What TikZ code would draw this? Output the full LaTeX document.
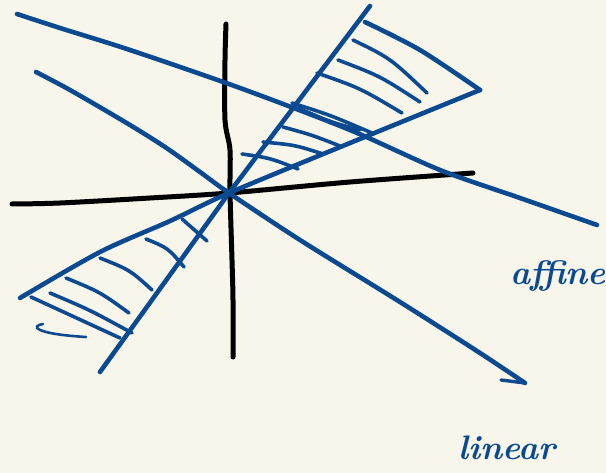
\documentclass[tikz,border=0pt]{standalone}
\usepackage{tikz}
\definecolor{paper}{HTML}{F8F6EA}
\definecolor{ink}{HTML}{0B4A90}
\tikzset{
  axisline/.style={line width=5pt, black, line cap=round, line join=round},
  blueline/.style={line width=4.6pt, ink, line cap=round, line join=round},
  hatchline/.style={line width=3.6pt, ink, line cap=round},
  handtext/.style={ink, font=\itshape\bfseries\fontsize{34}{34}\selectfont, inner sep=0pt}
}
\begin{document}
\begin{tikzpicture}[x=1pt,y=-1pt]
\fill[paper] (0,0) rectangle (606,473);
\useasboundingbox (0,0) rectangle (606,473);
\coordinate (O) at (229,193);
% axes
\draw[axisline] plot[smooth] coordinates {(226,24) (225,60) (225,120) (230,150) (230,192) (232,260) (233,300) (233,357)};
\draw[axisline] plot[smooth] coordinates {(12,204) (60,203) (150,198) (229,193) (350,182) (473,173)};
% linear line
\draw[blueline] plot[smooth] coordinates {(36,72) (70,90) (125,122) (165,147) (200,172) (229,193) (300,240) (400,302) (480,353) (525,383)};
\draw[blueline, line width=3.4pt] (501,380) -- (525,383);
% affine line
\draw[blueline] plot[smooth] coordinates {(17,14) (60,28) (130,50) (240,88) (350,130) (440,170) (520,198) (597,225)};
% cone rays
\draw[blueline] (100,372) -- (O) -- (370,6);
\draw[blueline] plot[smooth] coordinates {(20,298) (100,252) (170,221) (229,193) (350,143) (480,90)};
\draw[blueline] plot[smooth] coordinates {(365,22) (420,50) (480,90)};
% upper hatches
\draw[hatchline] (353,40) .. controls (390,58) .. (427,93);
\draw[hatchline] (338,60) .. controls (380,76) .. (420,102);
\draw[hatchline] (317,73) .. controls (360,88) .. (402,113);
\draw[hatchline] (292,103) .. controls (330,115) .. (372,133);
\draw[hatchline] (298,108) .. controls (330,122) .. (360,130);
\draw[hatchline] (283,127) .. controls (312,135) .. (340,146);
\draw[hatchline] (263,142) .. controls (295,145) .. (323,154);
\draw[hatchline] (242,154) .. controls (270,158) .. (298,169);
% lower hatches
\draw[hatchline] (182,219) -- (207,241);
\draw[hatchline] (146,239) .. controls (168,248) .. (184,267);
\draw[hatchline] (100,258) .. controls (130,270) .. (152,290);
\draw[hatchline] (66,278) .. controls (100,292) .. (129,313);
\draw[hatchline] (50,293) .. controls (90,310) .. (132,333);
\draw[hatchline] (31,297) .. controls (75,318) .. (120,338);
\draw[hatchline, line width=2.6pt] (43,324) .. controls (30,326) and (35,334) .. (86,337);
% labels
\node[handtext, anchor=base] (affine) at (558,285) {affine};
\node[handtext, anchor=base] (linear) at (507,460) {linear};
\end{tikzpicture}
\end{document}
